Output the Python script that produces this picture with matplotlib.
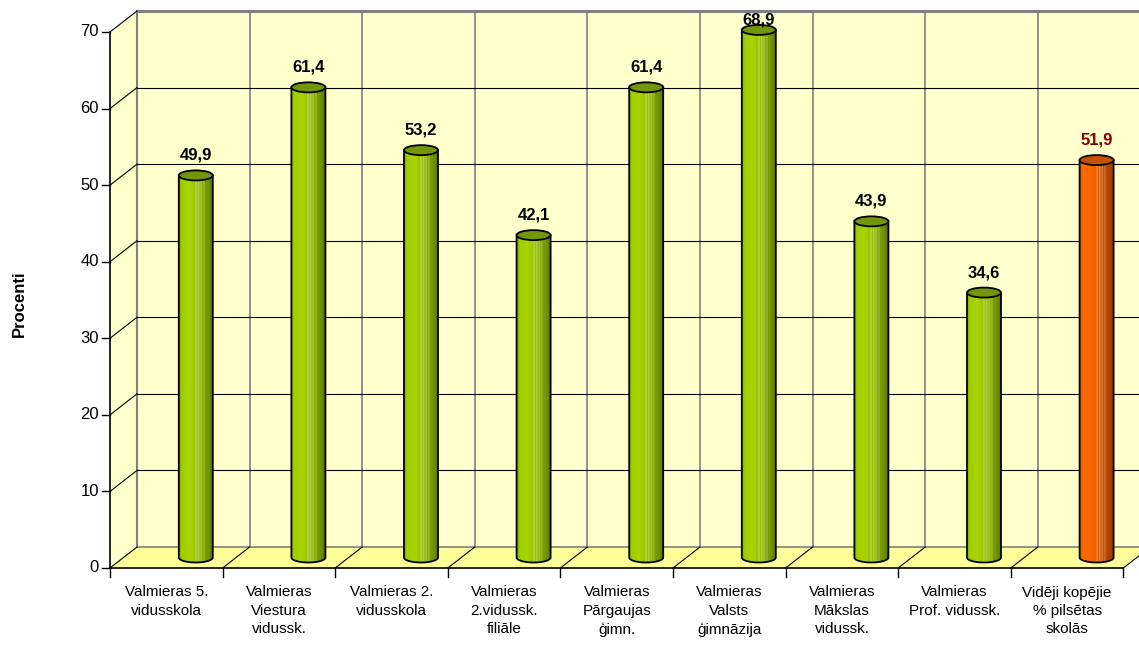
import numpy as np
import matplotlib
matplotlib.use("Agg")
import matplotlib.pyplot as plt
from matplotlib.patches import Polygon, Ellipse, PathPatch
from matplotlib.path import Path
from matplotlib.colors import to_rgb

plt.rcParams['font.family'] = ['Liberation Sans', 'DejaVu Sans']

# ---------------- data ----------------
categories = [
    "Valmieras 5.\nvidusskola",
    "Valmieras\nViestura\nvidussk.",
    "Valmieras 2.\nvidusskola",
    "Valmieras\n2.vidussk.\nfiliāle",
    "Valmieras\nPārgaujas\nģimn.",
    "Valmieras\nValsts\nģimnāzija",
    "Valmieras\nMākslas\nvidussk.",
    "Valmieras\nProf. vidussk.",
    "Vidēji kopējie\n% pilsētas\nskolās",
]
values = [49.9, 61.4, 53.2, 42.1, 61.4, 68.9, 43.9, 34.6, 51.9]
value_labels = ["49,9", "61,4", "53,2", "42,1", "61,4", "68,9", "43,9", "34,6", "51,9"]
is_average = [False] * 8 + [True]
y_ticks = [0, 10, 20, 30, 40, 50, 60, 70]
y_label = "Procenti"

# ---------------- styling / geometry ----------------
W, H, DPI = 1139, 646, 100
fig = plt.figure(figsize=(W / DPI, H / DPI), dpi=DPI)
ax = fig.add_axes([0, 0, 1, 1])
ax.set_axis_off()

n = len(categories)
ymax = 70
px_per_cat = 112.6
px_per_val = 536 / 70.0
x0_px, y0_px = 110, 568

ddx = 27 / px_per_cat      # depth offset in category units
ddy = 21 / px_per_val      # depth offset in value units

wall_col = "#FFFFCC"
floor_col = "#FFFF99"
grey = "#808080"

# back wall
ax.add_patch(Polygon([(ddx, ddy), (n + ddx, ddy), (n + ddx, ymax + ddy), (ddx, ymax + ddy)],
                     closed=True, facecolor=wall_col, edgecolor="none", zorder=1))
# side wall
ax.add_patch(Polygon([(0, 0), (ddx, ddy), (ddx, ymax + ddy), (0, ymax)],
                     closed=True, facecolor=wall_col, edgecolor="none", zorder=1))
# floor
ax.add_patch(Polygon([(0, 0), (n, 0), (n + ddx, ddy), (ddx, ddy)],
                     closed=True, facecolor=floor_col, edgecolor="none", zorder=1))
ax.plot([ddx, n + ddx], [ddy, ddy], color=grey, lw=1.2, zorder=2)
ax.plot([ddx, ddx], [ddy, ymax + ddy], color=grey, lw=1.5, zorder=2)
ax.plot([ddx, n + ddx], [ymax + ddy, ymax + ddy], color=grey, lw=2.2, zorder=2)

# vertical gridlines on back wall
for i in range(1, n + 1):
    ax.plot([i + ddx, i + ddx], [ddy, ymax + ddy], color=grey, lw=1.2, zorder=2)
# horizontal gridlines (back wall + side wall diagonals)
for t in y_ticks[1:]:
    if t < ymax:
        ax.plot([ddx, n + ddx], [t + ddy, t + ddy], color="black", lw=0.8, zorder=2)
    ax.plot([0, ddx], [t, t + ddy], color="black", lw=0.8, zorder=2)
# floor diagonals
for i in range(0, n + 1):
    ax.plot([i, i + ddx], [0, ddy], color="black", lw=0.8, zorder=2)

# axes lines
ax.plot([0, 0], [0, ymax], color="black", lw=1.2, zorder=5)
ax.plot([0, n], [0, 0], color="black", lw=1.2, zorder=5)
tick_len_x = 8 / px_per_cat
for t in y_ticks:
    ax.plot([-tick_len_x, 0], [t, t], color="black", lw=1.0, zorder=5)
    ax.text(-tick_len_x - 3 / px_per_cat, t, str(t), ha="right", va="center",
            fontsize=12, color="black")
tick_len_y = 9 / px_per_val
for i in range(n + 1):
    ax.plot([i, i], [0, -tick_len_y], color="black", lw=1.0, zorder=5)

# category labels
for i, lab in enumerate(categories):
    ax.text(i + 0.5, -17.5 / px_per_val, lab, ha="center", va="top",
            fontsize=11, linespacing=1.38, color="black")

# y-axis title
ax.text(-(x0_px - 19) / px_per_cat, 35 - 0.5, y_label, rotation=90, ha="center",
        va="center", fontsize=12, fontweight="bold")


# ---------------- cylinders ----------------
def gradient_colors(stops, ncols):
    ts = np.linspace(0, 1, ncols)
    pos = [s[0] for s in stops]
    cols = np.array([to_rgb(s[1]) for s in stops])
    out = np.zeros((1, ncols, 3))
    for k in range(3):
        out[0, :, k] = np.interp(ts, pos, cols[:, k])
    return out

green_stops = [(0.0, "#88B200"), (0.08, "#A0CE00"), (0.3, "#A8D400"), (0.46, "#9CC600"),
               (0.5, "#B6DA50"), (0.54, "#98C000"), (0.58, "#B2D250"), (0.62, "#94BA00"),
               (0.66, "#A8C848"), (0.7, "#88AC00"), (0.74, "#9CBA40"), (0.78, "#7C9E00"),
               (0.88, "#729200"), (1.0, "#5C7800")]
orange_stops = [(0.0, "#E45A00"), (0.08, "#FF6C00"), (0.3, "#FA6600"), (0.46, "#E86000"),
                (0.5, "#F28C44"), (0.54, "#DC5C00"), (0.58, "#EA8644"), (0.62, "#D25600"),
                (0.66, "#DE7C44"), (0.7, "#C45000"), (0.74, "#D07440"), (0.78, "#B64A00"),
                (0.88, "#AA4400"), (1.0, "#903A00")]
green_top = "#72960A"
orange_top = "#C65200"

rx = 17 / px_per_cat
ry = 5 / px_per_val
cx_off = 29.5 / px_per_cat
base = ddy / 2
label_gap = 20 / px_per_val
label_cap = ymax + ddy - 9 / px_per_val

for i, (v, avg) in enumerate(zip(values, is_average)):
    cx = i + 0.5 + cx_off
    top = v + base
    theta = np.linspace(np.pi, 2 * np.pi, 40)
    verts = [(cx - rx, top), (cx - rx, base)]
    verts += [(cx + rx * np.cos(t), base + ry * np.sin(t)) for t in theta]
    verts += [(cx + rx, top), (cx - rx, top)]
    path = Path(verts, closed=True)
    clip = PathPatch(path, facecolor="none", edgecolor="none", transform=ax.transData)
    ax.add_patch(clip)
    img = gradient_colors(orange_stops if avg else green_stops, 34)
    im = ax.imshow(img, extent=(cx - rx, cx + rx, base - ry, top), aspect="auto",
                   interpolation="nearest", zorder=3)
    im.set_clip_path(clip)
    ax.add_patch(PathPatch(path, facecolor="none", edgecolor="black", lw=1.3, zorder=4))
    ax.add_patch(Ellipse((cx, top), 2 * rx, 2 * ry,
                         facecolor=orange_top if avg else green_top,
                         edgecolor="black", lw=1.3, zorder=4))
    ax.text(cx, min(top + label_gap, label_cap), value_labels[i], ha="center", va="center",
            fontsize=12, fontweight="bold",
            color="#800000" if avg else "black", zorder=6)

ax.set_xlim(-x0_px / px_per_cat, (W - x0_px) / px_per_cat)
ax.set_ylim(-(H - y0_px) / px_per_val, y0_px / px_per_val)
fig.savefig("out.png", dpi=DPI, facecolor="white")
